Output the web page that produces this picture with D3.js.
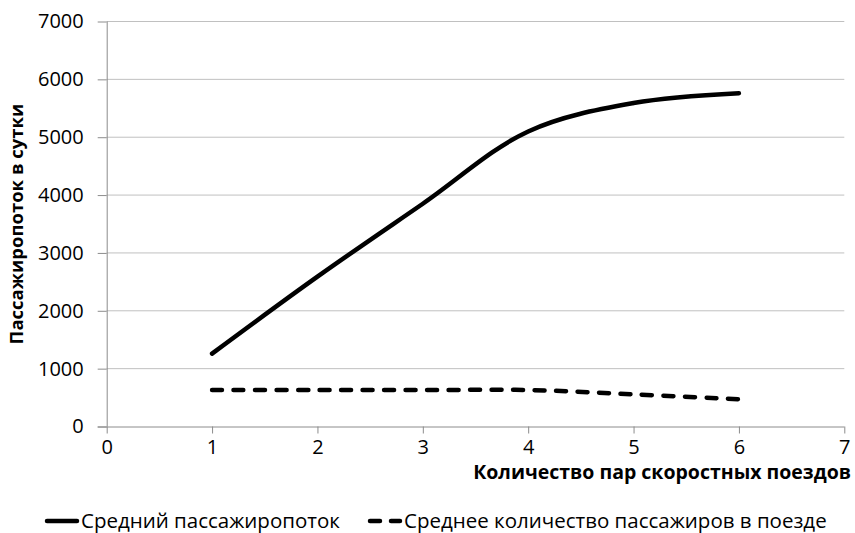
<!DOCTYPE html>
<html>
<head>
<meta charset="utf-8">
<script src="https://cdn.jsdelivr.net/npm/d3@7"></script>
<style>
  body { margin: 0; background: #fff; }
  text { font-family: "Open Sans", "Noto Sans", sans-serif; fill: #000; }
</style>
</head>
<body>
<div id="chart"></div>
<script>
// data
var trainPairs = [1, 2, 3, 4, 5, 6];
var avgFlow = [1260, 2590, 3850, 5100, 5590, 5760];
var avgPerTrain = [630, 630, 630, 630, 555, 470];
var xTicks = [0, 1, 2, 3, 4, 5, 6, 7];
var yTicks = [0, 1000, 2000, 3000, 4000, 5000, 6000, 7000];
var seriesNames = ["Средний пассажиропоток", "Среднее количество пассажиров в поезде"];

function init() {
    var w = 855, h = 533;
    var svg = d3.select("#chart").append("svg")
        .attr("width", w).attr("height", h);

    var x = d3.scaleLinear().domain([0, 7]).range([106.7, 844.3]);
    var y = d3.scaleLinear().domain([0, 7000]).range([426.5, 21.5]);

    // horizontal gridlines
    svg.append("g").selectAll("line")
        .data(yTicks.slice(1))
        .enter().append("line")
        .attr("x1", x(0)).attr("x2", x(7))
        .attr("y1", function(d) { return y(d); })
        .attr("y2", function(d) { return y(d); })
        .attr("stroke", "#c0c0c0").attr("stroke-width", 1);

    // y axis
    var yAxis = svg.append("g")
        .attr("transform", "translate(" + x(0) + ",0)")
        .call(d3.axisLeft(y).tickValues(yTicks).tickFormat(d3.format("d"))
            .tickSize(9).tickPadding(14));
    // x axis
    var xAxis = svg.append("g")
        .attr("transform", "translate(0," + y(0) + ")")
        .call(d3.axisBottom(x).tickValues(xTicks).tickFormat(d3.format("d"))
            .tickSize(7).tickPadding(6));

    [yAxis, xAxis].forEach(function(a) {
        a.select(".domain").attr("stroke", "#8c8c8c");
        a.selectAll(".tick line").attr("stroke", "#8c8c8c");
        a.selectAll(".tick text")
            .style("font-size", "20px")
            .style("font-family", "'Open Sans', sans-serif")
            .attr("fill", "#000");
    });
    xAxis.select(".domain").attr("d", "M" + (x(0) - 9) + ",0.5H" + x(7));
    yAxis.select(".domain").attr("d", "M0.5," + y(7000) + "V" + y(0));

    // axis titles
    svg.append("text")
        .attr("x", 851).attr("y", 479)
        .attr("text-anchor", "end")
        .style("font-size", "19.5px").style("font-weight", "bold")
        .text("Количество пар скоростных поездов");

    svg.append("text")
        .attr("transform", "translate(23,224) rotate(-90)")
        .attr("text-anchor", "middle")
        .style("font-size", "18.5px").style("font-weight", "bold")
        .text("Пассажиропоток в сутки");

    var line = d3.line()
        .x(function(d, i) { return x(trainPairs[i]); })
        .y(function(d) { return y(d); })
        .curve(d3.curveCatmullRom.alpha(0.5));

    svg.append("path")
        .datum(avgFlow)
        .attr("d", line)
        .attr("fill", "none").attr("stroke", "#000")
        .attr("stroke-width", 4.5).attr("stroke-linecap", "round");

    svg.append("path")
        .datum(avgPerTrain)
        .attr("d", line)
        .attr("fill", "none").attr("stroke", "#000")
        .attr("stroke-width", 4.5).attr("stroke-linecap", "round")
        .attr("stroke-dasharray", "10,11.5");

    // legend
    var legend = svg.append("g");
    var items = [
        {name: seriesNames[0], x0: 47, dash: null},
        {name: seriesNames[1], x0: 370, dash: "10,11"}
    ];
    items.forEach(function(it) {
        legend.append("line")
            .attr("x1", it.x0).attr("x2", it.x0 + 30)
            .attr("y1", 521).attr("y2", 521)
            .attr("stroke", "#000").attr("stroke-width", 4.5)
            .attr("stroke-linecap", "round")
            .attr("stroke-dasharray", it.dash);
        legend.append("text")
            .attr("x", it.x0 + 34).attr("y", 528)
            .style("font-size", "20.5px")
            .text(it.name);
    });
}

window.onload = init;
</script>
</body>
</html>
